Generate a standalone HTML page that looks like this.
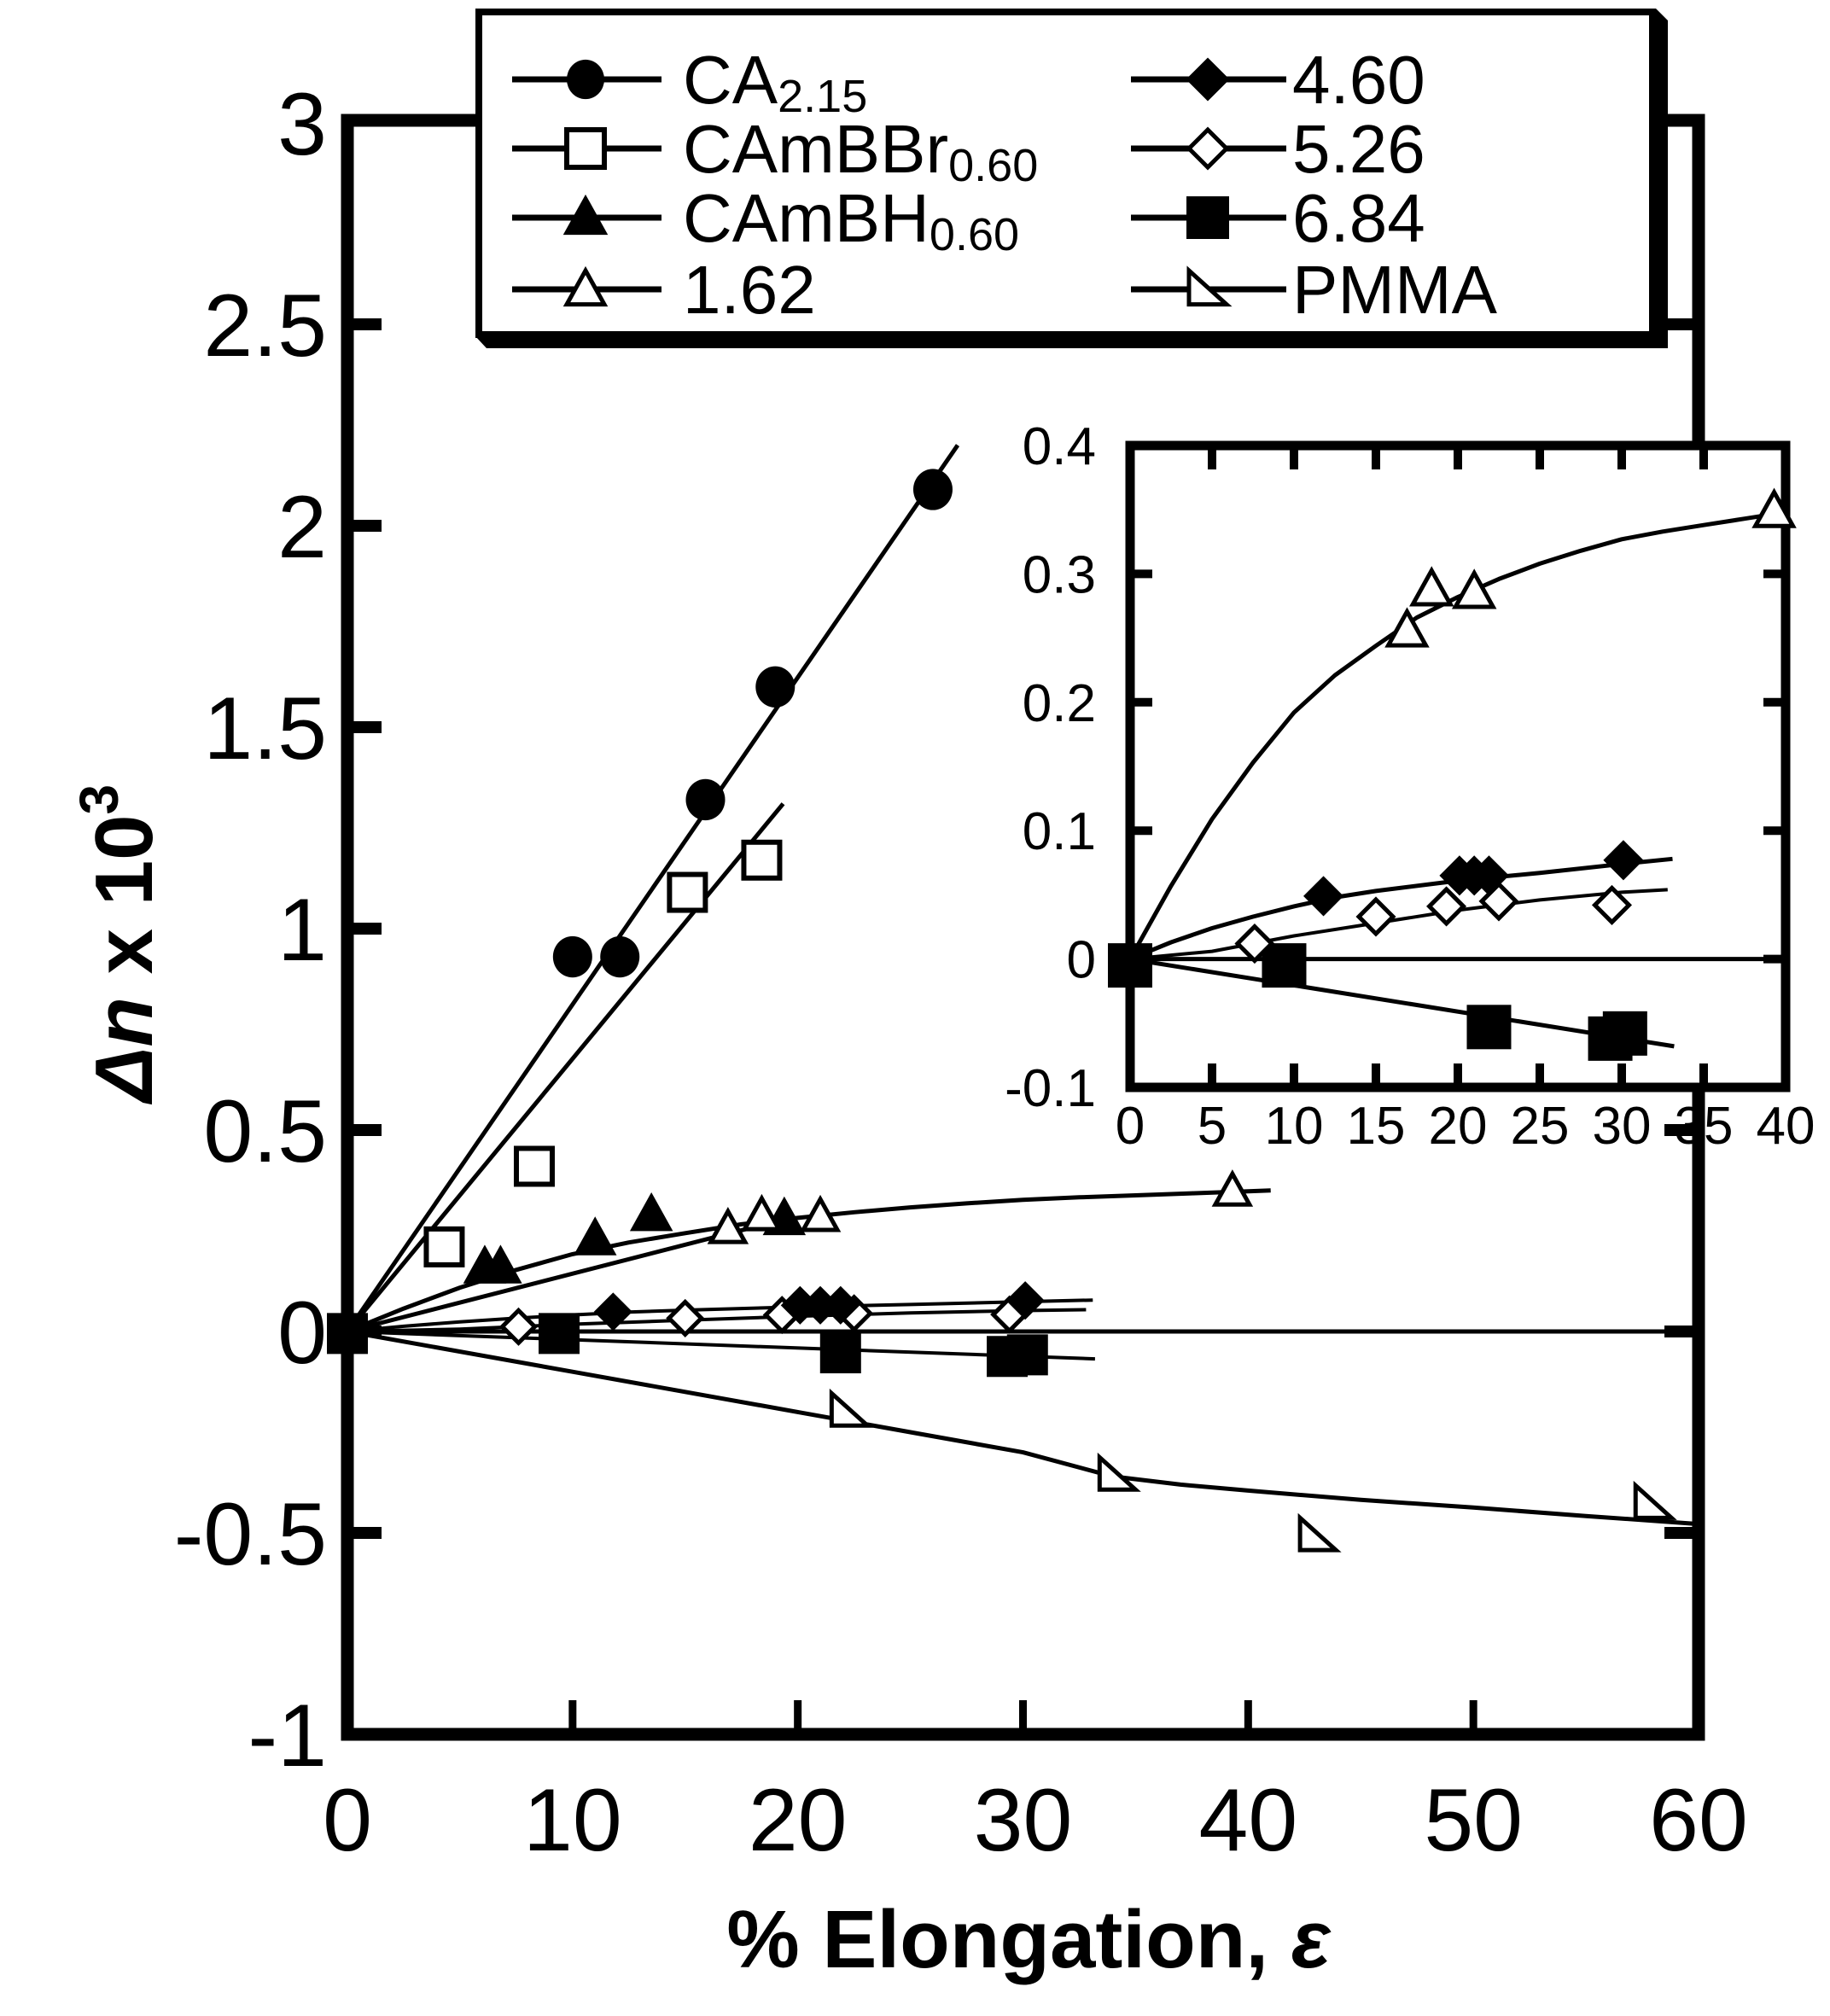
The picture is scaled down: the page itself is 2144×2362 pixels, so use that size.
<!DOCTYPE html>
<html><head><meta charset="utf-8"><style>
html,body{margin:0;padding:0;background:#fff}
svg{display:block}
text{font-family:"Liberation Sans",Arial,sans-serif;fill:#000}
</style></head><body>
<svg id="chart" xmlns="http://www.w3.org/2000/svg" width="2144" height="2362" viewBox="0 0 2144 2362">
<rect width="2144" height="2362" fill="#fff"/>
<g id="main"></g>
<g id="legend"></g>
<g id="inset"></g>
</svg>
<script>
// ---- data (main & inset share series) ----
const xTicksMain = [0,10,20,30,40,50,60];
const yTicksMain = [-1,-0.5,0,0.5,1,1.5,2,2.5,3];
const yTickLabelsMain = ["-1","-0.5","0","0.5","1","1.5","2","2.5","3"];
const xTicksInset = [0,5,10,15,20,25,30,35,40];
const yTicksInset = [-0.1,0,0.1,0.2,0.3,0.4];
const yTickLabelsInset = ["-0.1","0","0.1","0.2","0.3","0.4"];

const caX = [10.0,12.1,15.9,19.0,26.0];
const caY = [0.93,0.93,1.32,1.60,2.09];
const caFitX = [0,27.1];
const caFitY = [0,2.20];

const brX = [4.3,8.3,15.1,18.4];
const brY = [0.21,0.41,1.09,1.17];
const brFitX = [0,19.35];
const brFitY = [0,1.31];

const bhX = [6.1,6.8,11.0,13.5,19.4];
const bhY = [0.16,0.16,0.23,0.29,0.28];
const bhFitX = [0,19.5];
const bhFitY = [0,0.28];

const s162X = [0,16.9,18.4,21.0,39.3];
const s162Y = [0,0.256,0.288,0.286,0.349];
const s162FitX = [0,2.5,5,7.5,10,12.5,15,17.5,20,22.5,25,27.5,30,32.5,35,37.5,40,41];
const s162FitY = [0,0.057,0.109,0.153,0.192,0.221,0.244,0.266,0.282,0.296,0.308,0.318,0.327,0.333,0.338,0.343,0.348,0.35];

const s460X = [11.8,20.1,21.0,21.9,30.1];
const s460Y = [0.049,0.065,0.065,0.065,0.077];
const s460FitX = [0,2.5,5,7.5,10,12.5,15,20,25,30,33.1];
const s460FitY = [0,0.013,0.024,0.033,0.041,0.048,0.053,0.061,0.067,0.074,0.078];

const s526X = [7.6,15.0,19.3,22.5,29.4];
const s526Y = [0.012,0.033,0.041,0.045,0.042];
const s526FitX = [0,5,10,15,20,25,30,32.8];
const s526FitY = [0,0.006,0.018,0.028,0.038,0.046,0.052,0.054];

const s684X = [0,9.4,21.9,29.3,30.2];
const s684Y = [-0.005,-0.005,-0.053,-0.062,-0.058];
const s684FitX = [0,33.2];
const s684FitY = [0,-0.068];

const pmX = [22.3,34.2,43.1,58.0];
const pmY = [-0.198,-0.357,-0.507,-0.427];
const pmFitX = [0,10,20,25,30,34,37,40,45,50,55,60];
const pmFitY = [0,-0.10,-0.20,-0.25,-0.30,-0.36,-0.38,-0.395,-0.418,-0.437,-0.458,-0.478];

const NS = "http://www.w3.org/2000/svg";
function mk(parent, tag, attrs){
  const e = document.createElementNS(NS, tag);
  for (const k in attrs) e.setAttribute(k, attrs[k]);
  parent.appendChild(e);
  return e;
}

const M = {l:407, r:1990, t:144, b:2032, x0:0, x1:60, y0:-1, y1:3};
const I = {l:1324, r:2092, t:522, b:1274, x0:0, x1:40, y0:-0.1, y1:0.4};
function sx(A, v){ return A.l + (v - A.x0) / (A.x1 - A.x0) * (A.r - A.l); }
function sy(A, v){ return A.b - (v - A.y0) / (A.y1 - A.y0) * (A.b - A.t); }

function marker(g, type, cx, cy, s){
  const h = s/2;
  let e;
  if (type === 'circle') {
    e = mk(g,'ellipse',{cx:cx,cy:cy,rx:h,ry:h*1.05,fill:'#000'});
  } else if (type === 'sqOpen' || type === 'sqFill') {
    e = mk(g,'rect',{x:cx-h,y:cy-h,width:s,height:s,fill:type==='sqFill'?'#000':'#fff',stroke:'#000','stroke-width':6});
  } else if (type === 'triFill' || type === 'triOpen') {
    e = mk(g,'polygon',{points:`${cx},${cy-h} ${cx+h},${cy+h*0.8} ${cx-h},${cy+h*0.8}`,fill:type==='triFill'?'#000':'#fff',stroke:'#000','stroke-width':5});
  } else if (type === 'diaFill' || type === 'diaOpen') {
    e = mk(g,'polygon',{points:`${cx},${cy-h} ${cx+h},${cy} ${cx},${cy+h} ${cx-h},${cy}`,fill:type==='diaFill'?'#000':'#fff',stroke:'#000','stroke-width':5});
  } else if (type === 'rtri') {
    e = mk(g,'polygon',{points:`${cx-h},${cy-h} ${cx+h},${cy+h*0.8} ${cx-h},${cy+h*0.8}`,fill:'#fff',stroke:'#000','stroke-width':5});
  }
  return e;
}

function fitLine(g, A, xs, ys, w, name){
  const pts = xs.map((x,i)=> sx(A,x).toFixed(1)+','+sy(A,ys[i]).toFixed(1)).join(' ');
  const p = mk(g,'polyline',{points:pts,fill:'none',stroke:'#000','stroke-width':w,'stroke-linejoin':'round'});
  
  
}
function points(g, A, xs, ys, type, size, name){
  xs.forEach((x,i)=>{
    const e = marker(g, type, sx(A,x), sy(A,ys[i]), size);
    
    
  });
}

// ================= MAIN PLOT =================
const gm = document.getElementById('main');
mk(gm,'rect',{x:M.l,y:M.t-3,width:M.r-M.l,height:M.b-M.t+3,fill:'none',stroke:'#000','stroke-width':15});
yTicksMain.forEach((v,i)=>{
  const y = sy(M,v);
  if (v > M.y0 && v < M.y1) {
    const t1 = mk(gm,'line',{x1:M.l,y1:y,x2:M.l+40,y2:y,stroke:'#000','stroke-width':14});
    
    
    const t2 = mk(gm,'line',{x1:M.r-40,y1:y,x2:M.r,y2:y,stroke:'#000','stroke-width':14});
    
    
  }
  const tx = mk(gm,'text',{x:383,y:y+37,'font-size':104,'text-anchor':'end'});
  tx.textContent = yTickLabelsMain[i];
  
  
});
xTicksMain.forEach(v=>{
  const x = sx(M,v);
  if (v > M.x0 && v < M.x1) {
    const t = mk(gm,'line',{x1:x,y1:M.b,x2:x,y2:M.b-40,stroke:'#000','stroke-width':9});
    
    
  }
  const tx = mk(gm,'text',{x:x,y:2168,'font-size':104,'text-anchor':'middle'});
  tx.textContent = String(v);
  
  
});
const xt = mk(gm,'text',{x:1205,y:2305,'font-size':96,'font-weight':'bold','text-anchor':'middle'});
xt.innerHTML = '% Elongation, <tspan font-style="italic">ε</tspan>';


const yt = mk(gm,'text',{x:0,y:0,'font-size':96,'font-weight':'bold','text-anchor':'middle',transform:'translate(178,1105) rotate(-90)'});
yt.innerHTML = '<tspan font-style="italic">Δn</tspan> x 10<tspan font-size="64" dy="-40">3</tspan>';



fitLine(gm, M, [0,60], [0,0], 5, 'zero-line');
fitLine(gm, M, caFitX, caFitY, 5, 'fit-ca215');
fitLine(gm, M, brFitX, brFitY, 5, 'fit-cambbr');
fitLine(gm, M, bhFitX, bhFitY, 5, 'fit-cambh');
fitLine(gm, M, s162FitX, s162FitY, 5, 'fit-162');
fitLine(gm, M, s460FitX, s460FitY, 4, 'fit-460');
fitLine(gm, M, s526FitX, s526FitY, 4, 'fit-526');
fitLine(gm, M, s684FitX, s684FitY, 4, 'fit-684');
fitLine(gm, M, pmFitX, pmFitY, 5, 'fit-pmma');
points(gm, M, s684X, s684Y, 'sqFill', 42, 'point-684');
points(gm, M, s526X, s526Y, 'diaOpen', 38, 'point-526');
points(gm, M, s460X, s460Y, 'diaFill', 38, 'point-460');
points(gm, M, bhX, bhY, 'triFill', 42, 'point-cambh');
points(gm, M, s162X.slice(1), s162Y.slice(1), 'triOpen', 40, 'point-162');
points(gm, M, brX, brY, 'sqOpen', 42, 'point-cambbr');
points(gm, M, caX, caY, 'circle', 46, 'point-ca215');
points(gm, M, pmX, pmY, 'rtri', 42, 'point-pmma');

// ================= LEGEND =================
const gl = document.getElementById('legend');
mk(gl,'polygon',{points:'570,408 1954,408 1954,24 1940,10 1940,394 557,394',fill:'#000'});
mk(gl,'rect',{x:561,y:14,width:1375,height:378,fill:'#fff',stroke:'#000','stroke-width':8});
const legMarkers = ['circle','sqOpen','triFill','triOpen','diaFill','diaOpen','sqFill','rtri'];
const legMain = ['CA','CAmBBr','CAmBH','1.62','4.60','5.26','6.84','PMMA'];
const legSub = ['2.15','0.60','0.60','','','','',''];
legMain.forEach((lab,i)=>{
  const col = Math.floor(i/4), row = i%4;
  const y = [93,174,255,339][row];
  const x1 = col ? 1325 : 600, x2 = col ? 1507 : 775, mx = col ? 1415 : 686, tx = col ? 1514 : 800;
  const g = mk(gl,'g',{});
  
  
  mk(g,'line',{x1:x1,y1:y,x2:x2,y2:y,stroke:'#000','stroke-width':7});
  marker(g, legMarkers[i], mx, y, 44);
  const t = mk(g,'text',{x:tx,y:y+28,'font-size':80});
  t.textContent = lab;
  if (legSub[i]) {
    const s = mk(t,'tspan',{'font-size':54,dy:10});
    s.textContent = legSub[i];
  }
});

// ================= INSET =================
const gi = document.getElementById('inset');
mk(gi,'rect',{x:I.l,y:I.t,width:I.r-I.l,height:I.b-I.t,fill:'#fff',stroke:'#000','stroke-width':11});
yTicksInset.forEach((v,i)=>{
  const y = sy(I,v);
  if (v > I.y0 && v < I.y1) {
    const a = mk(gi,'line',{x1:I.l,y1:y,x2:I.l+26,y2:y,stroke:'#000','stroke-width':10});
    
    
    const b = mk(gi,'line',{x1:I.r-26,y1:y,x2:I.r,y2:y,stroke:'#000','stroke-width':10});
    
    
  }
  const t = mk(gi,'text',{x:1284,y:y+22,'font-size':62,'text-anchor':'end'});
  t.textContent = yTickLabelsInset[i];
  
  
});
xTicksInset.forEach(v=>{
  const x = sx(I,v);
  if (v > I.x0 && v < I.x1) {
    const a = mk(gi,'line',{x1:x,y1:I.b,x2:x,y2:I.b-28,stroke:'#000','stroke-width':10});
    
    
    const b = mk(gi,'line',{x1:x,y1:I.t,x2:x,y2:I.t+28,stroke:'#000','stroke-width':10});
    
    
  }
  const t = mk(gi,'text',{x:x,y:1340,'font-size':62,'text-anchor':'middle'});
  t.textContent = String(v);
  
  
});
fitLine(gi, I, [0,40], [0,0], 5, 'inset-zero-line');
fitLine(gi, I, s162FitX.filter(x=>x<=40), s162FitY.slice(0, s162FitX.filter(x=>x<=40).length), 5, 'inset-fit-162');
fitLine(gi, I, s460FitX, s460FitY, 5, 'inset-fit-460');
fitLine(gi, I, s526FitX, s526FitY, 4, 'inset-fit-526');
fitLine(gi, I, s684FitX, s684FitY, 5, 'inset-fit-684');
points(gi, I, s684X, s684Y, 'sqFill', 46, 'inset-point-684');
points(gi, I, s526X, s526Y, 'diaOpen', 40, 'inset-point-526');
points(gi, I, s460X, s460Y, 'diaFill', 40, 'inset-point-460');
points(gi, I, s162X.slice(1), s162Y.slice(1), 'triOpen', 44, 'inset-point-162');
</script>
</body></html>
